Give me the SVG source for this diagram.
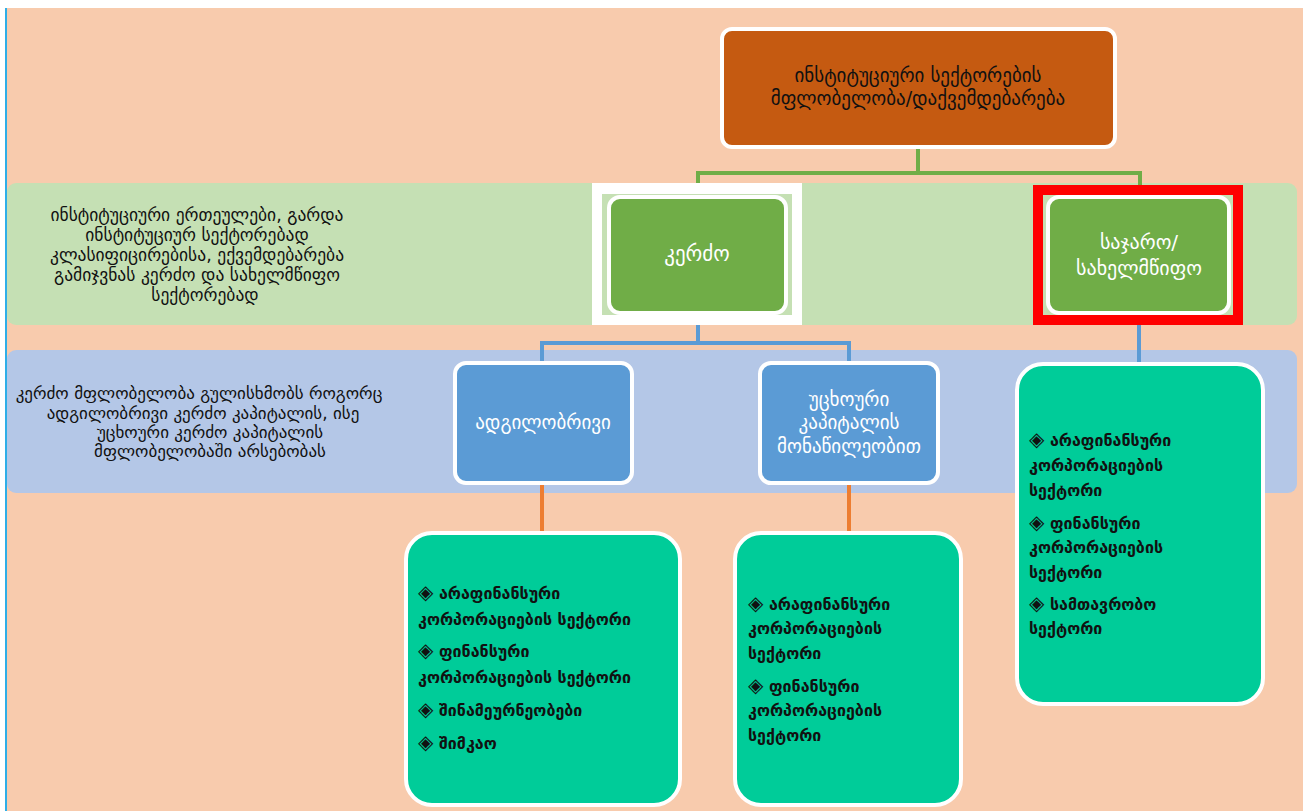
<svg xmlns="http://www.w3.org/2000/svg" width="1303" height="811" viewBox="0 0 1303 811">
<style>
text{font-family:"DejaVu Sans",sans-serif;}
.dk{fill:#111;font-size:17px;}
.li{fill:#111;font-size:16px;font-weight:bold;}
.b{font-size:20px;font-weight:normal;}
.wt{fill:#fff;font-size:19px;}
.c{text-anchor:middle;}
.node{stroke:#fff;stroke-width:4;}
.conn{fill:none;stroke-width:4;}
</style>
<rect x="0" y="0" width="1303" height="811" fill="#fff"/>
<rect x="7" y="8" width="1296" height="803" fill="#F8CBAD"/>
<rect x="5" y="8" width="2" height="803" fill="#2EAEE8"/>
<g id="band-green">
<rect x="7" y="183" width="1290" height="142" rx="9" fill="#C5E0B4"/>
<text class="dk c" style="font-size:17.5px"><tspan x="197" y="221">ინსტიტუციური ერთეულები, გარდა</tspan><tspan x="197" y="241">ინსტიტუციურ სექტორებად</tspan><tspan x="197" y="261">კლასიფიცირებისა, ექვემდებარება</tspan><tspan x="197" y="281">გამიჯვნას კერძო და სახელმწიფო</tspan><tspan x="205" y="301">სექტორებად</tspan></text>
</g>
<g id="band-blue">
<rect x="7" y="350" width="1290" height="143" rx="9" fill="#B4C7E7"/>
<text class="dk c"><tspan x="199" y="399">კერძო მფლობელობა გულისხმობს როგორც</tspan><tspan x="203" y="419">ადგილობრივი კერძო კაპიტალის, ისე</tspan><tspan x="210" y="438">უცხოური კერძო კაპიტალის</tspan><tspan x="210" y="457">მფლობელობაში არსებობას</tspan></text>
</g>
<g id="connectors">
<path class="conn" stroke="#70AD47" d="M918 148V173M698 173H1141M698 171V198M1140 171V186"/>
<path class="conn" stroke="#5B9BD5" d="M698 313V343M541 343H849M542 341V363M849 341V363M1139 320V365"/>
<path class="conn" stroke="#ED7D31" d="M542 483V533M849 483V533"/>
</g>
<g id="n-top">
<rect class="node" x="722" y="29" width="393" height="118" rx="10" fill="#C55A11"/>
<text class="dk c" style="font-size:19px"><tspan x="918" y="82">ინსტიტუციური სექტორების</tspan><tspan x="918" y="105">მფლობელობა/დაქვემდებარება</tspan></text>
</g>
<g id="n-kerdzo">
<rect x="592" y="183" width="210" height="142" fill="#fff"/>
<rect x="602" y="194" width="190" height="121" fill="#C5E0B4"/>
<rect class="node" x="609" y="197" width="177" height="116" rx="11" fill="#70AD47"/>
<text class="wt c" style="font-size:21px" x="697" y="261">კერძო</text>
</g>
<g id="n-public">
<rect x="1038" y="190" width="200" height="130" fill="none" stroke="#FF0000" stroke-width="10"/>
<rect class="node" x="1048" y="197" width="181" height="116" rx="11" fill="#70AD47"/>
<text class="wt c" style="font-size:20px"><tspan x="1139" y="249">საჯარო/</tspan><tspan x="1139" y="275">სახელმწიფო</tspan></text>
</g>
<g id="n-local">
<rect class="node" x="455" y="363" width="177" height="120" rx="11" fill="#5B9BD5"/>
<text class="wt c" x="543" y="429">ადგილობრივი</text>
</g>
<g id="n-foreign">
<rect class="node" x="760" y="363" width="178" height="120" rx="11" fill="#5B9BD5"/>
<text class="wt c"><tspan x="849" y="406">უცხოური</tspan><tspan x="849" y="429">კაპიტალის</tspan><tspan x="849" y="453">მონაწილეობით</tspan></text>
</g>
<g id="n-local-list">
<rect class="node" x="406" y="533" width="274" height="272" rx="26" fill="#00CC99"/>
<text class="li"><tspan x="418" y="599"><tspan class="b">◈</tspan> არაფინანსური</tspan><tspan x="418" y="625">კორპორაციების სექტორი</tspan><tspan x="418" y="657"><tspan class="b">◈</tspan> ფინანსური</tspan><tspan x="418" y="683">კორპორაციების სექტორი</tspan><tspan x="418" y="716"><tspan class="b">◈</tspan> შინამეურნეობები</tspan><tspan x="418" y="749"><tspan class="b">◈</tspan> შიმკაო</tspan></text>
</g>
<g id="n-foreign-list">
<rect class="node" x="735" y="533" width="226" height="272" rx="26" fill="#00CC99"/>
<text class="li"><tspan x="748" y="610"><tspan class="b">◈</tspan> არაფინანსური</tspan><tspan x="748" y="634">კორპორაციების</tspan><tspan x="748" y="659">სექტორი</tspan><tspan x="748" y="692"><tspan class="b">◈</tspan> ფინანსური</tspan><tspan x="748" y="716">კორპორაციების</tspan><tspan x="748" y="741">სექტორი</tspan></text>
</g>
<g id="n-public-list">
<rect class="node" x="1017" y="364" width="246" height="340" rx="26" fill="#00CC99"/>
<text class="li"><tspan x="1029" y="446"><tspan class="b">◈</tspan> არაფინანსური</tspan><tspan x="1029" y="471">კორპორაციების</tspan><tspan x="1029" y="496">სექტორი</tspan><tspan x="1029" y="529"><tspan class="b">◈</tspan> ფინანსური</tspan><tspan x="1029" y="553">კორპორაციების</tspan><tspan x="1029" y="578">სექტორი</tspan><tspan x="1029" y="610"><tspan class="b">◈</tspan> სამთავრობო</tspan><tspan x="1029" y="634">სექტორი</tspan></text>
</g>
</svg>
